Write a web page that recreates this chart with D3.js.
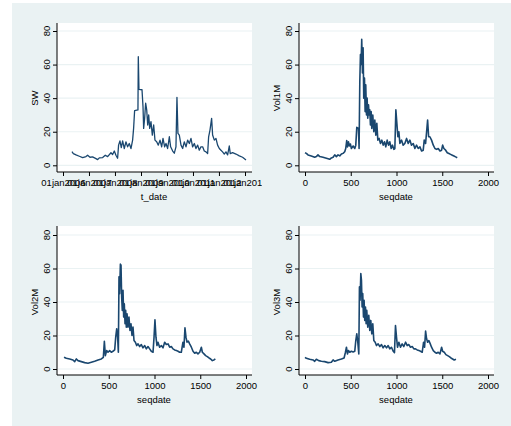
<!DOCTYPE html>
<html lang="en">
<head>
<meta charset="utf-8">
<script src="https://d3js.org/d3.v7.min.js"></script>
<style>
  body { margin: 0; background: #fff; }
  text { font-family: "Liberation Sans", Arial, sans-serif; font-size: 9.5px; fill: #000; }
</style>
</head>
<body>
<script>
// ---- values ----
var yTicks = [0, 20, 40, 60, 80];
var seqTicks = [0, 500, 1000, 1500, 2000];
var dateTicks = ["2006-01-01", "2007-01-01", "2008-01-01", "2009-01-01",
                 "2010-01-01", "2011-01-01", "2012-01-01", "2013-01-01"];

// SW against t_date
var swDate = ["2006-05-07","2006-05-26","2006-07-03","2006-08-18","2006-10-04","2006-11-20","2006-12-13",
  "2007-01-15","2007-02-21","2007-04-09","2007-05-03","2007-05-26","2007-07-12","2007-08-18","2007-09-20",
  "2007-11-06","2007-11-29","2007-12-23","2008-01-15","2008-02-07","2008-02-21","2008-03-11","2008-03-30",
  "2008-04-18","2008-05-11","2008-06-03","2008-06-27","2008-07-20","2008-08-13","2008-09-05","2008-09-19",
  "2008-10-03","2008-11-19","2008-11-24","2008-12-03","2009-01-15","2009-01-29","2009-02-07","2009-02-21",
  "2009-03-07","2009-03-22","2009-04-05","2009-04-19","2009-05-03","2009-05-21","2009-06-09","2009-06-28",
  "2009-07-16","2009-08-09","2009-09-01","2009-09-25","2009-10-18","2009-11-06","2009-11-29","2009-12-18",
  "2010-01-10","2010-02-03","2010-02-21","2010-03-22","2010-04-14","2010-05-07","2010-05-21","2010-06-04",
  "2010-06-23","2010-07-17","2010-08-09","2010-09-01","2010-09-25","2010-10-18","2010-11-11","2010-12-04",
  "2010-12-27","2011-01-20","2011-02-12","2011-03-08","2011-03-31","2011-04-23","2011-05-17","2011-06-09",
  "2011-07-03","2011-07-26","2011-08-09","2011-08-28","2011-09-20","2011-10-04","2011-10-28","2011-11-20",
  "2011-12-13","2012-01-06","2012-01-29","2012-02-21","2012-03-16","2012-04-08","2012-05-02","2012-05-25",
  "2012-06-08","2012-07-11","2012-08-27","2012-10-13","2012-11-28","2013-01-15"];
var swVal = [8.1,7.0,6.2,5.4,4.6,5.2,6.0,
  4.8,5.0,4.0,3.4,4.4,4.6,6.0,5.2,
  7.5,6.4,8.5,6.0,4.2,12,14.5,10.5,
  14.5,10,14,11,13,10,15,22,
  32.5,33,64.7,45.2,45,35,22,28,
  37,33,24,30,22,26,18,24,
  15,14,12,15,11,16,11,13,
  10,17,11,8.5,7.2,11,40.5,19,
  18,12,10,14,11,15,13,16,
  11,13,10,12,9,11,11,8.5,
  8,7,17,21,28,18,15,16,
  12,10,9,8,6.7,8,6.2,11.5,
  7,7.5,6.7,5.6,4.8,3.2];

// Vol1M against seqdate
var vol1mSeq = [0,15,33,69,106,124,142,161,197,234,270,288,307,325,343,361,380,398,416,434,445,456,464,475,485,496,
  507,526,544,555,566,584,591,599,606,613,620,628,635,642,650,657,664,672,679,686,694,701,708,715,723,730,741,752,763,
  774,785,796,810,825,840,854,869,883,898,913,927,942,956,971,982,993,1004,1015,1026,1037,1055,1073,1091,1110,1128,
  1146,1164,1183,1201,1219,1237,1256,1274,1292,1303,1318,1329,1340,1351,1365,1383,1402,1420,1438,1456,1475,1493,1504,
  1518,1537,1555,1573,1591,1610,1628,1646,1664];
var vol1mVal = [7.5,7.1,6.2,5.6,4.8,5.2,6.2,5.2,4.8,4.2,3.6,4.4,4.8,6.2,5.2,6.2,5.6,6.7,7.1,8.1,10,14.7,11,14,11.5,12.7,
  10,11.5,10,12,22.6,22,10,50,66,60,75,55,70,40,52,32,48,30,40,28,36,30,33,24,32,22,30,20,27,
  18,25,15,16,13,15,12,14,11,15,12,14,10,12,9.5,10,33,25,17,20,13,15,12,13,16,13,
  15,12,13,10,12,10,11,8.5,9,15,13,20,27,17,17,15,12,10,9.5,10,8.5,9,12,
  10,9,7.5,7,6.5,6,5.5,5,4.5];

// Vol2M against seqdate
var vol2mSeq = [11,36,73,109,128,146,164,200,237,273,310,346,383,419,441,452,463,477,492,510,528,546,565,576,587,597,
  605,612,619,627,634,641,648,656,663,670,678,685,692,700,710,721,732,743,754,765,776,791,805,820,838,856,874,893,911,
  929,947,965,984,995,1005,1016,1027,1038,1056,1075,1093,1111,1129,1148,1166,1184,1202,1220,1239,1257,1275,1293,1311,
  1322,1333,1344,1355,1370,1384,1403,1421,1439,1457,1475,1494,1512,1523,1541,1559,1577,1596,1614,1632,1650,1665];
var vol2mVal = [7,6.4,6,5.4,4.4,6,5,4.4,3.8,3.4,4,4.6,5.4,6,7,16.6,8,11,10,11,10,10.6,11.4,19,24,19,
  10,55,45,62.6,62,43,35,47,31,39,27,35,25,33,25,31,23,27,20,25,17,16,14,15,13.4,14.6,12.6,14,12,
  13.4,12,10.6,10,19,29.4,19,14,16,13,14,12.6,16,14.6,15,13,13.4,12,11.4,11,10.6,10,10,16,
  13,24.6,19,16,16.6,15,13,10.6,9.4,10,9,10,13,10,9,8,7.4,6.6,6,5,5.4,6];

// Vol3M against seqdate
var vol3mSeq = [0,15,51,88,106,124,150,179,215,252,288,307,325,361,398,427,442,453,464,475,489,507,526,544,555,566,577,
  588,595,602,610,617,624,631,639,646,653,661,668,675,686,697,708,719,730,741,752,767,781,799,818,836,854,872,891,909,
  927,945,964,978,989,1000,1011,1026,1044,1062,1080,1099,1117,1135,1153,1172,1190,1208,1226,1245,1263,1281,1296,1307,
  1318,1329,1340,1354,1369,1383,1402,1420,1438,1456,1475,1493,1504,1522,1540,1559,1577,1595,1613,1631,1650];
var vol3mVal = [7,6.4,5.8,5.4,4.6,5.8,5,4.6,4.4,3.8,4,5.4,4.6,5.4,6,6.6,10,13,9,11,10,10.6,10.2,10.6,17,21,16,
  9,49,41,57,53,37,45,31,41,29,37,27,35,25,32,23,29,21,27,17,16,14,15,13.4,14.6,12.6,14,12.6,14,
  12,13,10.6,9.8,26,19,13,16,13,15,13.4,16,14,14.6,13,13.4,12,12,11.4,11,10.6,10,16,13,
  22.6,18,16,17,15,13,11,10,9.4,10,9,13,10.6,10,8.6,8,7.4,6.6,6,5.4,5.8];

// ---- layout ----
var parseDate = d3.timeParse("%Y-%m-%d");
var fmtDate = function (d) { return d3.timeFormat("%d%b%Y")(d).toLowerCase(); };

var svg = d3.select("body").append("svg")
    .attr("width", 511)
    .attr("height", 426);

svg.append("rect")
    .attr("x", 12).attr("y", 3)
    .attr("width", 499).attr("height", 423)
    .attr("fill", "#eaf2f3");

var panels = [
  { yTitle: "SW", xTitle: "t_date", time: true, left: 57, top: 23, bottom: 172, zeroY: 165.3, topY: 31,
    clipL: 12, clipR: 262, lw: 1.3,
    pts: swDate.map(function (d, i) { return { x: parseDate(d), y: swVal[i] }; }) },
  { yTitle: "Vol1M", xTitle: "seqdate", time: false, left: 299, top: 23, bottom: 172, zeroY: 165.3, topY: 31,
    clipL: 262, clipR: 511, lw: 1.6,
    pts: vol1mSeq.map(function (d, i) { return { x: d, y: vol1mVal[i] }; }) },
  { yTitle: "Vol2M", xTitle: "seqdate", time: false, left: 57, top: 226, bottom: 375, zeroY: 369, topY: 235,
    clipL: 12, clipR: 262, lw: 1.6,
    pts: vol2mSeq.map(function (d, i) { return { x: d, y: vol2mVal[i] }; }) },
  { yTitle: "Vol3M", xTitle: "seqdate", time: false, left: 299, top: 226, bottom: 375, zeroY: 369, topY: 235,
    clipL: 262, clipR: 511, lw: 1.6,
    pts: vol3mSeq.map(function (d, i) { return { x: d, y: vol3mVal[i] }; }) }
];

var defs = svg.append("defs");

panels.forEach(function (p, k) {
    var right = p.left + 195;
    var x;
    if (p.time) {
        x = d3.scaleTime()
            .domain([parseDate(dateTicks[0]), parseDate(dateTicks[dateTicks.length - 1])])
            .range([p.left + 6, p.left + 188]);
    } else {
        x = d3.scaleLinear().domain([0, 2000]).range([p.left + 6, p.left + 189]);
    }
    var y = d3.scaleLinear().domain([0, 80]).range([p.zeroY, p.topY]);

    defs.append("clipPath").attr("id", "cell" + k)
        .append("rect")
        .attr("x", p.clipL).attr("y", 0)
        .attr("width", p.clipR - p.clipL).attr("height", 426);

    var g = svg.append("g").attr("clip-path", "url(#cell" + k + ")");

    // plot region
    g.append("rect")
        .attr("x", p.left).attr("y", p.top)
        .attr("width", right - p.left).attr("height", p.bottom - p.top)
        .attr("fill", "#ffffff");

    // grid
    g.selectAll(".grid")
        .data(yTicks)
        .enter()
        .append("line")
        .attr("x1", p.left + 1).attr("x2", right)
        .attr("y1", function (d) { return y(d); })
        .attr("y2", function (d) { return y(d); })
        .attr("stroke", "#eaf2f3")
        .attr("stroke-width", 1.2);

    // series
    var line = d3.line()
        .x(function (d) { return x(d.x); })
        .y(function (d) { return y(d.y); });
    g.append("path")
        .datum(p.pts)
        .attr("d", line)
        .attr("fill", "none")
        .attr("stroke", "#1a476f")
        .attr("stroke-width", p.lw)
        .attr("stroke-linejoin", "round");

    // y axis
    var yAxis = d3.axisLeft(y).tickValues(yTicks).tickSize(4).tickSizeOuter(0).tickFormat("");
    var ya = g.append("g").attr("transform", "translate(" + p.left + ",0)").call(yAxis);
    ya.select(".domain").attr("d", "M0," + p.top + "V" + p.bottom).attr("stroke", "#000");
    ya.selectAll(".tick line").attr("stroke", "#000");

    g.selectAll(".ylab")
        .data(yTicks)
        .enter()
        .append("text")
        .attr("text-anchor", "middle")
        .attr("transform", function (d) { return "translate(" + (p.left - 7) + "," + y(d) + ") rotate(-90)"; })
        .text(function (d) { return d; });

    g.append("text")
        .attr("text-anchor", "middle")
        .attr("transform", "translate(" + (p.left - 19) + "," + ((p.zeroY + p.topY) / 2) + ") rotate(-90)")
        .text(p.yTitle);

    // x axis
    var xAxis = p.time
        ? d3.axisBottom(x).tickValues(dateTicks.map(parseDate)).tickFormat(fmtDate)
        : d3.axisBottom(x).tickValues(seqTicks).tickFormat(function (d) { return d; });
    xAxis.tickSize(4).tickSizeOuter(0).tickPadding(3);
    var xa = g.append("g").attr("transform", "translate(0," + p.bottom + ")").call(xAxis);
    xa.select(".domain").attr("d", "M" + p.left + ",0H" + right).attr("stroke", "#000");
    xa.selectAll(".tick line").attr("stroke", "#000");
    xa.selectAll(".tick text")
        .attr("font-family", "Liberation Sans, Arial, sans-serif")
        .attr("font-size", "9.5px")
        .attr("fill", "#000");

    g.append("text")
        .attr("text-anchor", "middle")
        .attr("x", (p.left + 6 + p.left + 188) / 2)
        .attr("y", p.bottom + 28)
        .text(p.xTitle);
});
</script>
</body>
</html>
